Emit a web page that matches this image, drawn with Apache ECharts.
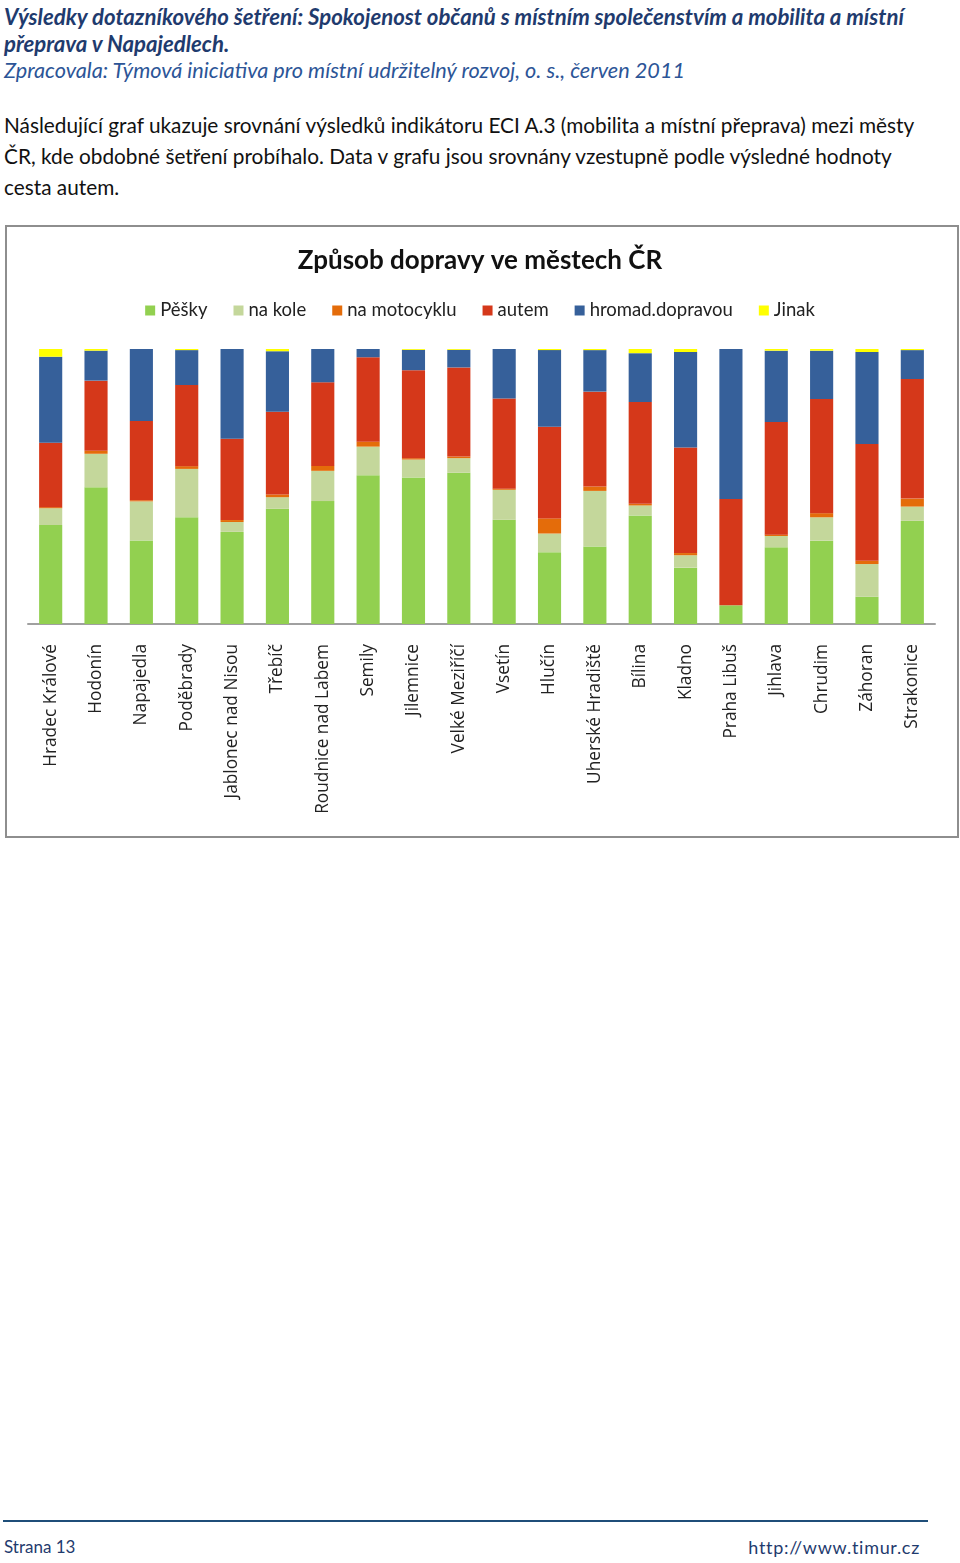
<!DOCTYPE html>
<html><head><meta charset="utf-8">
<script src="https://cdn.jsdelivr.net/npm/echarts@6/dist/echarts.min.js"></script>
<style>
html,body{margin:0;padding:0;background:#fff;width:960px;height:1563px;overflow:hidden;}
.t{position:absolute;left:4px;white-space:nowrap;font-family:Lato,"Noto Sans",sans-serif;}
.h1{font-weight:bold;font-style:italic;color:#1F3B6E;font-size:22.2px;}
.h2{font-style:italic;color:#2C5597;font-size:21.7px;}
.p{color:#111;font-size:20.8px;}
#box{position:absolute;left:5px;top:225px;width:950px;height:609px;border:2px solid #8e8e8e;}
#chart{position:absolute;left:0;top:0;width:960px;height:840px;}
#rule{position:absolute;left:3px;top:1520px;width:925px;height:2px;background:#1F4E79;}
.f{position:absolute;top:1536px;font-family:Lato,"Noto Sans",sans-serif;font-size:17px;color:#1F3B6E;}
</style></head>
<body>
<div class="t h1" style="top:3px">Výsledky dotazníkového šetření: Spokojenost občanů s místním společenstvím a mobilita a místní</div>
<div class="t h1" style="top:30px">přeprava v Napajedlech.</div>
<div class="t h2" style="top:57px">Zpracovala: Týmová iniciativa pro místní udržitelný rozvoj, o. s., červen 2011</div>
<div class="t p" style="top:112px">Následující graf ukazuje srovnání výsledků indikátoru ECI A.3 (mobilita a místní přeprava) mezi městy</div>
<div class="t p" style="top:143px">ČR, kde obdobné šetření probíhalo. Data v grafu jsou srovnány vzestupně podle výsledné hodnoty</div>
<div class="t p" style="top:174px">cesta autem.</div>
<div id="box"></div>
<div id="chart"></div>
<div id="rule"></div>
<div class="f" style="left:4px">Strana 13</div>
<div class="f" style="right:40px;font-size:18px;letter-spacing:0.7px">http://www.timur.cz</div>
<script>
const cities = ["Hradec Králové","Hodonín","Napajedla","Poděbrady","Jablonec nad Nisou","Třebíč","Roudnice nad Labem","Semily","Jilemnice","Velké Meziříčí","Vsetín","Hlučín","Uherské Hradiště","Bílina","Kladno","Praha Libuš","Jihlava","Chrudim","Záhoran","Strakonice"];
const peskyData   = [36.0,49.7,30.4,38.8,33.5,41.9,44.7,54.1,53.3,55.0,37.9,26.1,28.2,39.5,20.5, 6.8,27.9,30.3, 9.9,37.5];
const naKoleData  = [ 6.1,12.2,14.2,17.6, 3.6, 4.2,11.0,10.4, 6.5, 5.3,10.9, 6.8,20.2, 3.6, 4.5, 0.0, 4.1, 8.5,11.9, 5.2];
const motoData    = [ 0.4, 1.1, 0.4, 1.0, 0.7, 1.0, 1.8, 1.8, 0.5, 0.6, 0.4, 5.5, 1.6, 0.6, 0.8, 0.0, 0.5, 1.5, 1.2, 2.9];
const autemData   = [23.4,25.5,28.8,29.5,29.6,30.1,30.4,30.7,32.0,32.4,32.8,33.3,34.5,37.0,38.4,38.7,41.0,41.5,42.5,43.5];
const hromadData  = [31.3,10.9,26.2,12.7,32.6,22.0,12.1, 3.0, 7.4, 6.4,18.0,27.9,15.1,17.8,34.7,54.5,25.9,17.6,33.4,10.5];
const jinakData   = [ 2.8, 0.6, 0.0, 0.4, 0.0, 0.8, 0.0, 0.0, 0.3, 0.3, 0.0, 0.4, 0.4, 1.5, 1.1, 0.0, 0.6, 0.6, 1.1, 0.4];
const seriesNames = ["Pěšky","na kole","na motocyklu","autem","hromad.dopravou","Jinak"];
const seriesColors = ["#92D050","#C4D79B","#E46C0A","#D5381A","#36609A","#FFFF00"];
const allData = [peskyData,naKoleData,motoData,autemData,hromadData,jinakData];

const chart = echarts.init(document.getElementById('chart'), null, {renderer:'canvas'});
chart.setOption({
  animation:false,
  title:{text:"Způsob dopravy ve městech ČR",left:'center',top:243,
    textStyle:{fontFamily:'Lato',fontWeight:'bold',fontSize:26,color:'#111'}},
  legend:{top:296,left:'center',itemWidth:10,itemHeight:10,itemGap:26,icon:'rect',
    textStyle:{fontFamily:'Lato',fontSize:18.5,color:'#222'},
    data:seriesNames},
  grid:{left:28,right:25,top:349,bottom:216,containLabel:false},
  xAxis:{type:'category',data:cities,
    axisLine:{lineStyle:{color:'#a0a0a0',width:2}},axisTick:{show:false},
    axisLabel:{rotate:90,interval:0,margin:20,fontFamily:'Open Sans',fontSize:17.3,color:'#222'}},
  yAxis:{type:'value',min:0,max:100,show:false,splitLine:{show:false}},
  series:allData.map((d,i)=>({name:seriesNames[i],type:'bar',stack:'total',barWidth:'51%',
    itemStyle:{color:seriesColors[i]},data:d}))
});
</script>
</body></html>
